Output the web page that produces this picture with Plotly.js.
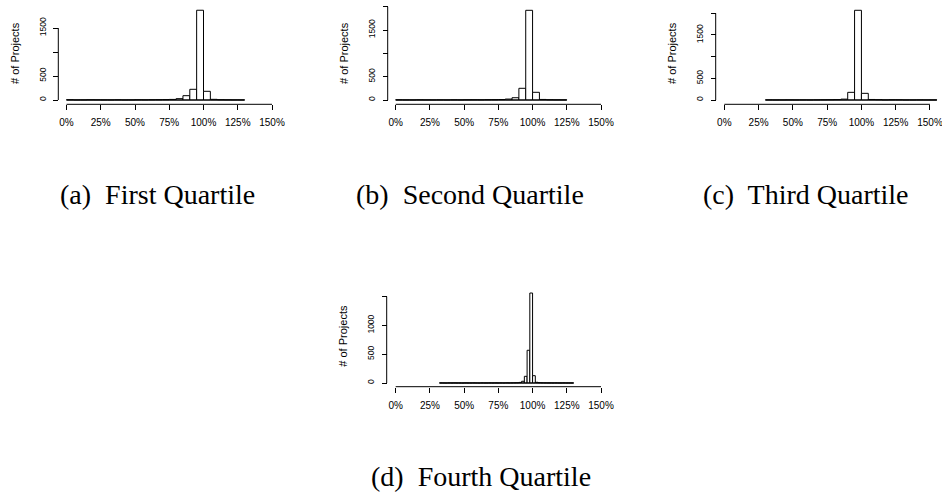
<!DOCTYPE html>
<html><head><meta charset="utf-8">
<script src="https://cdn.plot.ly/plotly-3.0.1.min.js"></script>
<style>html,body{margin:0;padding:0;background:#fff}#chart{width:942px;height:496px}</style>
</head><body><div id="chart"></div>
<script>
// ---- data: histogram bin left edges (%) and counts (# of projects) ----
const edgesA = [0,5,10,15,20,25,30,35,40,45,50,55,60,65,70,75,80,85,90,95,100,105,110,115,120,125];
const countsA = [6,2,3,5,4,3,2,4,2,3,5,4,6,7,9,12,28,90,223,1870,181,14,6,4,3,2];
const binWidthA = 5;

const edgesB = [0,5,10,15,20,25,30,35,40,45,50,55,60,65,70,75,80,85,90,95,100,105,110,115,120];
const countsB = [5,3,2,4,3,2,3,2,4,3,5,6,5,7,8,10,20,49,251,1925,165,12,6,4,3];
const binWidthB = 5;

const edgesC = [30,35,40,45,50,55,60,65,70,75,80,85,90,95,100,105,110,115,120,125,130,135,140,145,150];
const countsC = [3,2,2,3,2,3,2,4,6,7,9,20,177,2070,154,12,8,3,6,5,2,2,3,2,2];
const binWidthC = 5;

const edgesD = [32,34,36,38,40,42,44,46,48,50,52,54,56,58,60,62,64,66,68,70,72,74,76,78,80,82,84,86,88,90,92,94,96,98,100,102,104,106,108,110,112,114,116,118,120,122,124,126,128];
const countsD = [2,1,0,2,1,2,1,1,0,2,1,1,2,1,0,2,1,1,2,1,2,1,2,1,3,2,3,4,5,10,30,116,568,1562,127,12,6,4,3,2,2,1,2,1,1,2,1,1,1];
const binWidthD = 2;

const xTickVals = [0,25,50,75,100,125,150];
const xTickText = ['0%','25%','50%','75%','100%','125%','150%'];
const yTickValsA = [0,500,1000,1500], yTickTextA = ['0','500','','1500'];
const yTickValsB = [0,500,1000,1500,2000], yTickTextB = ['0','500','','1500',''];
const yTickValsC = [0,500,1000,1500,2000], yTickTextC = ['0','500','','1500',''];
const yTickValsD = [0,500,1000,1500], yTickTextD = ['0','500','1000',''];
const captions = ['(a)\u00a0 First Quartile','(b)\u00a0 Second Quartile','(c)\u00a0 Third Quartile','(d)\u00a0 Fourth Quartile'];
const yTitle = '# of Projects';

// ---- layout geometry (pixels) ----
const W = 942, H = 496;
const geom = [
  {zeroY:100, per500:24.0, axisY:104.3, x0:66.5, pxPct:1.370, yAxisX:58.3, top:4, capX:157, capY:194},
  {zeroY:100, per500:23.3, axisY:104.3, x0:395.7, pxPct:1.3687, yAxisX:387.7, top:4, capX:470, capY:194},
  {zeroY:100, per500:21.67, axisY:104.3, x0:724.3, pxPct:1.3713, yAxisX:715.7, top:4, capX:806, capY:194},
  {zeroY:383, per500:28.8, axisY:386.7, x0:395.7, pxPct:1.3687, yAxisX:386.7, top:287, capX:481, capY:476}
];

const panels = [
  {edges:edgesA, counts:countsA, w:binWidthA, yv:yTickValsA, yt:yTickTextA},
  {edges:edgesB, counts:countsB, w:binWidthB, yv:yTickValsB, yt:yTickTextB},
  {edges:edgesC, counts:countsC, w:binWidthC, yv:yTickValsC, yt:yTickTextC},
  {edges:edgesD, counts:countsD, w:binWidthD, yv:yTickValsD, yt:yTickTextD}
];

const sans = 'Liberation Sans, Arial, sans-serif';
const traces = [], shapes = [], annotations = [];
const layout = {
  width: W, height: H, margin:{l:0,r:0,t:0,b:0},
  paper_bgcolor:'#fff', plot_bgcolor:'rgba(0,0,0,0)',
  showlegend:false, hovermode:false,
  font:{family:sans, color:'#000'}
};

panels.forEach((p, i) => {
  const g = geom[i];
  const n = i === 0 ? '' : String(i+1);
  const xr = 'x'+n, yr = 'y'+n;
  const pxCount = g.per500/500;
  const yMax = (g.zeroY - g.top)/pxCount;
  const botPx = g.axisY - 1.5;
  const yMin = -(botPx - g.zeroY)/pxCount;
  const xMin = -6;
  const xMax = Math.min(160, (W - 0.5 - g.x0)/g.pxPct);

  traces.push({
    type:'bar', xaxis:xr, yaxis:yr,
    x: p.edges.map(e => e + p.w/2),
    y: p.counts,
    width: p.edges.map(() => p.w),
    marker:{color:'#fff', line:{color:'#000', width:1}}
  });

  layout['xaxis'+n] = {
    domain:[(g.x0 + xMin*g.pxPct)/W, (g.x0 + xMax*g.pxPct)/W],
    range:[xMin, xMax], anchor:'free', position: 1 - g.axisY/H,
    showline:false, showgrid:false, zeroline:false,
    ticks:'outside', ticklen:5, tickwidth:1, tickcolor:'#000',
    tickmode:'array', tickvals:xTickVals, ticktext:xTickText,
    tickfont:{size:10, family:sans, color:'#000'}, ticklabelstandoff:4,
    ticklabeloverflow:'allow'
  };
  layout['yaxis'+n] = {
    domain:[1 - botPx/H, 1 - g.top/H],
    range:[yMin, yMax], anchor:'free', position: g.yAxisX/W,
    showline:false, showgrid:false, zeroline:false,
    ticks:'outside', ticklen:5, tickwidth:1, tickcolor:'#000',
    tickmode:'array', tickvals:p.yv, ticktext:p.yt, tickangle:-90,
    tickfont:{size:8.5, family:sans, color:'#000'}, ticklabelstandoff:4,
    ticklabeloverflow:'allow',
    title:{text:yTitle, font:{size:11, family:sans, color:'#000'}, standoff:15}
  };

  // axis lines (R style: span first to last tick)
  shapes.push({type:'line', xref:xr, yref:'paper', x0:xTickVals[0], x1:xTickVals[xTickVals.length-1],
    y0:1 - g.axisY/H, y1:1 - g.axisY/H, line:{color:'#000', width:1}});
  shapes.push({type:'line', xref:'paper', yref:yr, x0:g.yAxisX/W, x1:g.yAxisX/W,
    y0:p.yv[0], y1:p.yv[p.yv.length-1], line:{color:'#000', width:1}});
  // zero-height bins drawn as baseline
  shapes.push({type:'line', xref:xr, yref:yr, x0:p.edges[0], x1:p.edges[p.edges.length-1] + p.w,
    y0:0, y1:0, line:{color:'#000', width:1}});

  annotations.push({xref:'paper', yref:'paper', x:g.capX/W, y:1 - g.capY/H,
    xanchor:'center', yanchor:'middle', showarrow:false, text:captions[i],
    font:{family:'Liberation Serif, Times New Roman, serif', size:28, color:'#000'}});
});
layout.shapes = shapes;
layout.annotations = annotations;

Plotly.newPlot('chart', traces, layout, {displayModeBar:false, staticPlot:true});
</script>
</body></html>
